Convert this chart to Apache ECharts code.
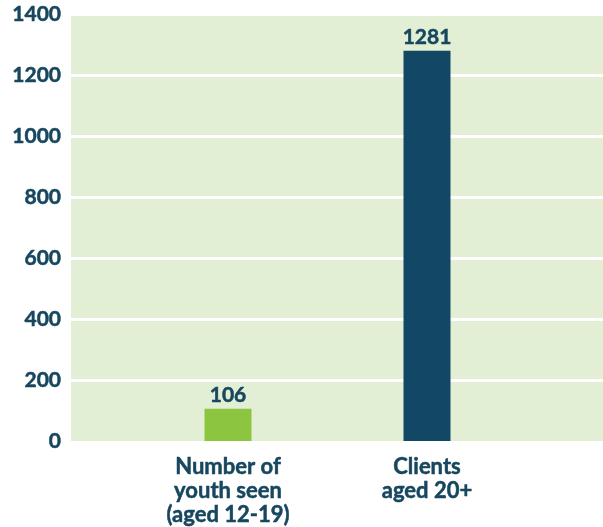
<!DOCTYPE html>
<html><head><meta charset="utf-8">
<script src="https://cdn.jsdelivr.net/npm/echarts@6/dist/echarts.min.js"></script>
<style>html,body{margin:0;padding:0;background:#fff}#c{width:603px;height:527px}</style>
</head><body><div id="c"></div>
<script>
const categories = ["Number of\nyouth seen\n(aged 12-19)", "Clients\naged 20+"];
const values = [106, 1281];
const barColors = ["#8cc540", "#124866"];
const yTicks = [0, 200, 400, 600, 800, 1000, 1200, 1400];

const txt = "#17475f";
const font = "Lato";
const bold = {fontFamily: font, fontWeight: 'bold', color: txt, textBorderColor: txt, textBorderWidth: 0.5};
const chart = echarts.init(document.getElementById('c'));
chart.setOption({
  animation: false,
  grid: [
    {left: 71, right: 0, top: 14.5, bottom: 86, show: true, backgroundColor: "#e2efd5", borderWidth: 0},
    {left: 128.5, right: 76.5, top: 14.5, bottom: 86}
  ],
  xAxis: [
    {gridIndex: 0, type: 'value', show: false, min: 0, max: 1},
    {gridIndex: 1, type: 'category', data: categories,
     axisLine: {show: false}, axisTick: {show: false},
     axisLabel: Object.assign({fontSize: 22, lineHeight: 24, margin: 14}, bold)}
  ],
  yAxis: [
    {gridIndex: 0, type: 'value', min: 0, max: yTicks[yTicks.length-1], interval: 200,
     axisLine: {show: false}, axisTick: {show: false},
     axisLabel: Object.assign({fontSize: 21, margin: 10,
       formatter: v => yTicks.includes(v) ? String(v) : ''}, bold),
     splitLine: {show: true, lineStyle: {color: '#ffffff', width: 3}, showMinLine: false}},
    {gridIndex: 1, type: 'value', min: 0, max: yTicks[yTicks.length-1], show: false, splitLine: {show: false}}
  ],
  series: [{
    type: 'bar', xAxisIndex: 1, yAxisIndex: 1,
    data: values.map((v, i) => ({value: v, itemStyle: {color: barColors[i]}})),
    barWidth: 47,
    label: Object.assign({show: true, position: 'top', distance: 3, fontSize: 21}, bold)
  }]
});
</script></body></html>
